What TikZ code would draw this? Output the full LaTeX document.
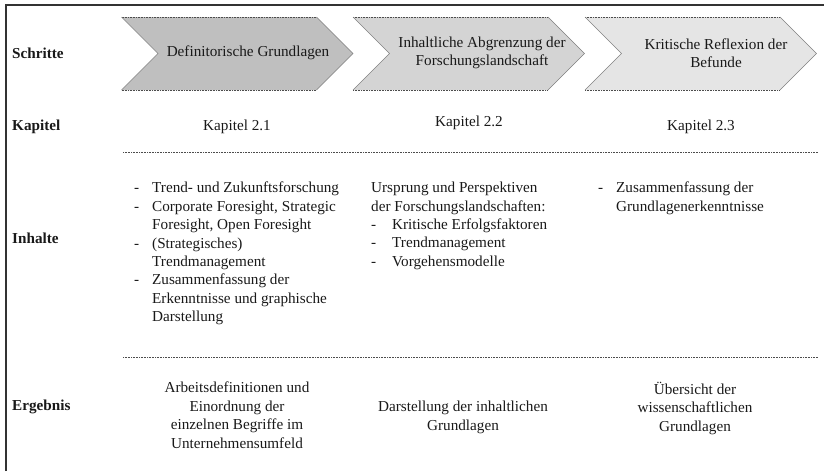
\documentclass[tikz,border=0pt]{standalone}
\usepackage{fontspec}
\setmainfont{Liberation Serif}
% dash at the start of a list item, and the matching indent for its continuation lines
\newcommand\lstdash[1][18pt]{\makebox[#1][l]{-}}
\newcommand\lstgap[1][18pt]{\hspace*{#1}}
\begin{document}
\begin{tikzpicture}[x=1pt,y=-1pt,
  txt/.style={font=\fontsize{15.2}{18.4}\selectfont, inner sep=0pt, text=black!90},
  rowlabel/.style={font=\fontsize{15.2}{18.4}\selectfont\bfseries, inner sep=0pt, text=black!90, anchor=west},
  block/.style={txt, anchor=north west, align=left},
  cblock/.style={txt, anchor=north, align=center},
  sep/.style={densely dotted, line width=0.6pt, black!70},
  chevedge/.style={densely dotted, line width=0.6pt, black!70},
  chevside/.style={line width=0.5pt, black!50},
  frame/.style={line width=1.3pt, black!80},
]
\useasboundingbox (0,0) rectangle (824,471);

% outer frame: top and left rules
\draw[frame] (6,471) -- (6,5) -- (824,5);

% process chevrons
\foreach \lx/\fc/\nm in {121.5/black!25/c1, 353/black!17/c2, 585/black!10/c3}{
  \fill[\fc] (\lx,17) -- ++(195,0) -- ++(36.5,36.5) -- ++(-36.5,36.5)
             -- ++(-195,0) -- ++(36.5,-36.5) -- cycle;
  \draw[chevedge] (\lx,17) -- ++(195,0);
  \draw[chevedge] (\lx,90) -- ++(195,0);
  \draw[chevside] (\lx+195,17) -- ++(36.5,36.5) -- ++(-36.5,36.5);
  \draw[chevside] (\lx,17) -- ++(36.5,36.5) -- ++(-36.5,36.5);
}
\node[txt] (s1) at (248,53) {Definitorische Grundlagen};
\node[txt, align=center] (s2) at (482,53) {Inhaltliche Abgrenzung der\\Forschungslandschaft};
\node[txt, align=center] (s3) at (716,53) {Kritische Reflexion der\\Befunde};

% row labels
\node[rowlabel] (lSchritte) at (12,53)  {Schritte};
\node[rowlabel] (lKapitel)  at (12,127) {Kapitel};
\node[rowlabel] (lInhalte)  at (12,238) {Inhalte};
\node[rowlabel] (lErgebnis) at (12,407) {Ergebnis};

% chapters
\node[txt] (k1) at (237,127) {Kapitel 2.1};
\node[txt] (k2) at (469,123) {Kapitel 2.2};
\node[txt] (k3) at (701,127) {Kapitel 2.3};

% separators
\coordinate (sepAl) at (123,152);
\coordinate (sepAr) at (818,152);
\coordinate (sepBl) at (123,357);
\coordinate (sepBr) at (818,357);
\draw[sep] (sepAl) -- (sepAr);
\draw[sep] (sepBl) -- (sepBr);

% contents
\node[block] (i1) at (134,182) {%
  \lstdash Trend- und Zukunftsforschung\\
  \lstdash Corporate Foresight, Strategic\\
  \lstgap Foresight, Open Foresight\\
  \lstdash (Strategisches)\\
  \lstgap Trendmanagement\\
  \lstdash Zusammenfassung der\\
  \lstgap Erkenntnisse und graphische\\
  \lstgap Darstellung};
\node[block] (i2) at (371,182) {%
  Ursprung und Perspektiven\\
  der Forschungslandschaften:\\
  \lstdash[21pt]Kritische Erfolgsfaktoren\\
  \lstdash[21pt]Trendmanagement\\
  \lstdash[21pt]Vorgehensmodelle};
\node[block] (i3) at (598,182) {%
  \lstdash Zusammenfassung der\\
  \lstgap Grundlagenerkenntnisse};

% results
\node[cblock] (e1) at (237,382) {Arbeitsdefinitionen und\\Einordnung der\\einzelnen Begriffe im\\Unternehmensumfeld};
\node[cblock] (e2) at (463,401) {Darstellung der inhaltlichen\\Grundlagen};
\node[cblock] (e3) at (695,382) {Übersicht der\\wissenschaftlichen\\Grundlagen};
\end{tikzpicture}
\end{document}
